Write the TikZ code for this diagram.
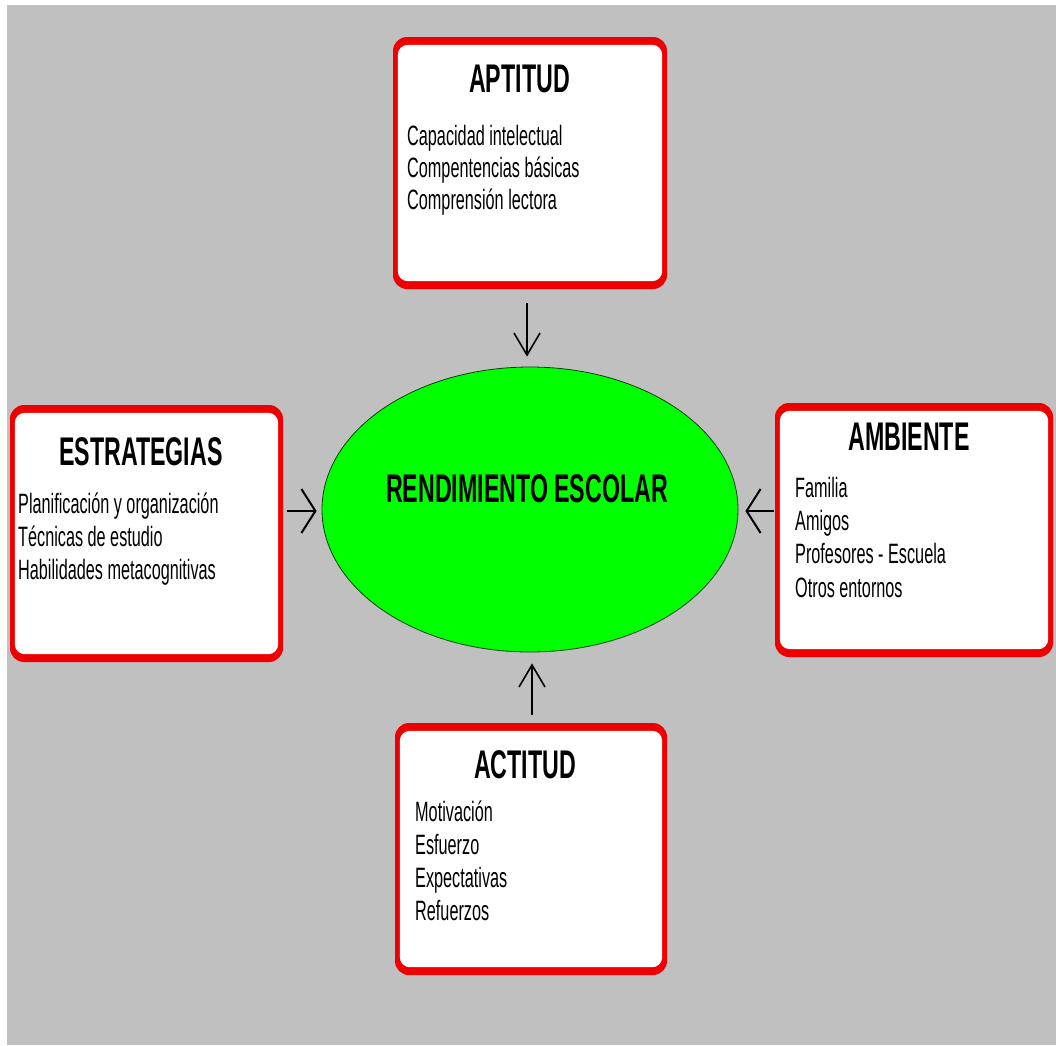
\documentclass[tikz,border=0pt]{standalone}
\usepackage{fontspec}
\newfontfamily\narrowfont[FakeStretch=0.58]{Liberation Sans}
\usetikzlibrary{arrows.meta,shapes.geometric}
\definecolor{bggray}{RGB}{192,192,192}
\definecolor{boxred}{RGB}{238,0,0}
\definecolor{ellgreen}{RGB}{0,255,0}
\definecolor{ellline}{RGB}{20,60,20}
\begin{document}
\begin{tikzpicture}[x=1pt,y=-1pt,
  box/.style={fill=boxred, rounded corners=14pt, inner sep=0pt},
  boxinner/.style={fill=white, rounded corners=10pt},
  titletext/.style={font=\narrowfont\bfseries\fontsize{40}{48}\selectfont, anchor=base, inner sep=0pt},
  itemtext/.style={font=\narrowfont\fontsize{28}{32}\selectfont, anchor=base west, inner sep=0pt},
  varr/.style={-{Straight Barb[length=22pt,width=26pt]}, line width=1.6pt},
  harr/.style={-{Straight Barb[length=14pt,width=44pt]}, line width=2pt}]
\useasboundingbox (0,0) rectangle (1056,1045);
\fill[white] (0,0) rectangle (1056,1045);
\fill[bggray] (7,5) rectangle (1056,1045);

% boxes (red frame, thicker at top and bottom)
\node[box, minimum width=274pt, minimum height=252pt] (apt) at (530,163) {};
\node[box, minimum width=273pt, minimum height=257pt] (est) at (146.5,533.5) {};
\node[box, minimum width=278pt, minimum height=254pt] (amb) at (914,530) {};
\node[box, minimum width=272pt, minimum height=252pt] (act) at (531,849) {};
\foreach \b in {apt,est,amb,act}
  \fill[boxinner] ([xshift=5pt,yshift=-8pt]\b.north west) rectangle ([xshift=-5pt,yshift=8pt]\b.south east);

% ellipse
\node[ellipse, draw=ellline, line width=0.8pt, fill=ellgreen, minimum width=416pt, minimum height=285pt, inner sep=0pt] (ell) at (530,509.5) {};
\node[titletext] (rend) at (527,502) {RENDIMIENTO ESCOLAR};

% APTITUD
\node[titletext] (aptt) at (519.5,92) {APTITUD};
\node[itemtext] (apt1) at (407,145) {Capacidad intelectual};
\node[itemtext] (apt2) at (407,177) {Compentencias básicas};
\node[itemtext] (apt3) at (407,209) {Comprensión lectora};

% ESTRATEGIAS
\node[titletext] (estt) at (141,465) {ESTRATEGIAS};
\node[itemtext] (est1) at (18,513) {Planificación y organización};
\node[itemtext] (est2) at (18,546) {Técnicas de estudio};
\node[itemtext] (est3) at (18,579) {Habilidades metacognitivas};

% AMBIENTE
\node[titletext] (ambt) at (909,450) {AMBIENTE};
\node[itemtext] (amb1) at (795,497) {Familia};
\node[itemtext] (amb2) at (795,530) {Amigos};
\node[itemtext] (amb3) at (795,563) {Profesores - Escuela};
\node[itemtext] (amb4) at (795,597) {Otros entornos};

% ACTITUD
\node[titletext] (actt) at (525,778) {ACTITUD};
\node[itemtext] (act1) at (415,821) {Motivación};
\node[itemtext] (act2) at (415,854) {Esfuerzo};
\node[itemtext] (act3) at (415,887) {Expectativas};
\node[itemtext] (act4) at (415,920) {Refuerzos};

% arrows
\draw[varr, shorten <=14pt, shorten >=10pt] ([xshift=-3pt]apt.south) -- ([xshift=-3pt]ell.north);
\draw[harr, shorten <=4pt, shorten >=5pt] ([yshift=-1.5pt]est.east |- ell.west) -- ([yshift=-1.5pt]ell.west);
\draw[harr, shorten <=1pt, shorten >=7pt] ([yshift=-1.5pt]amb.west |- ell.east) -- ([yshift=-1.5pt]ell.east);
\draw[varr, shorten <=8pt, shorten >=11pt] ([xshift=1pt]act.north) -- ([xshift=2pt]ell.south);
\end{tikzpicture}
\end{document}
